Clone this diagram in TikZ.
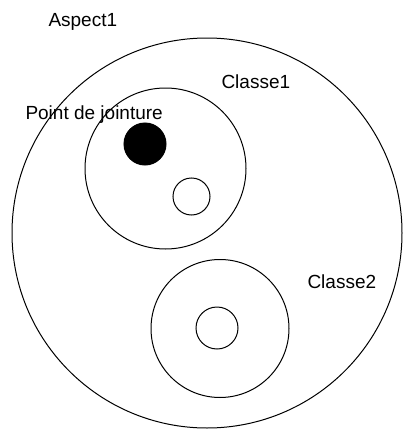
\documentclass[tikz,border=0pt]{standalone}
\usepackage{fontspec}
\setmainfont{Liberation Sans}
\usetikzlibrary{positioning}

\begin{document}
\begin{tikzpicture}[x=1pt,y=-1pt,line width=1pt,
    ring/.style={draw,circle,inner sep=0pt,minimum size=#1},
    lbl/.style={inner sep=0pt,font=\fontsize{19}{22}\selectfont}]
  \useasboundingbox (0,0) rectangle (402,431);
  % circles
  \node[ring=390pt] (aspect) at (207,233) {};
  \node[ring=161pt] (classe1) at (165.5,168.5) {};
  \node[ring=42pt,fill=black] (jointure) at (145,144) {};
  \node[ring=37pt] (pt1) at (191.5,196.5) {};
  \node[ring=138pt] (classe2) at (220,328.5) {};
  \node[ring=42pt] (pt2) at (217,328) {};
  % labels
  \node[lbl,anchor=west] (laspect) at (48,22) {Aspect1};
  \node[lbl,anchor=west] (lclasse1) at (221,82) {Classe1};
  \node[lbl,anchor=west] (ljointure) at (25,115) {Point de jointure};
  \node[lbl,anchor=west] (lclasse2) at (307,282) {Classe2};
\end{tikzpicture}
\end{document}
